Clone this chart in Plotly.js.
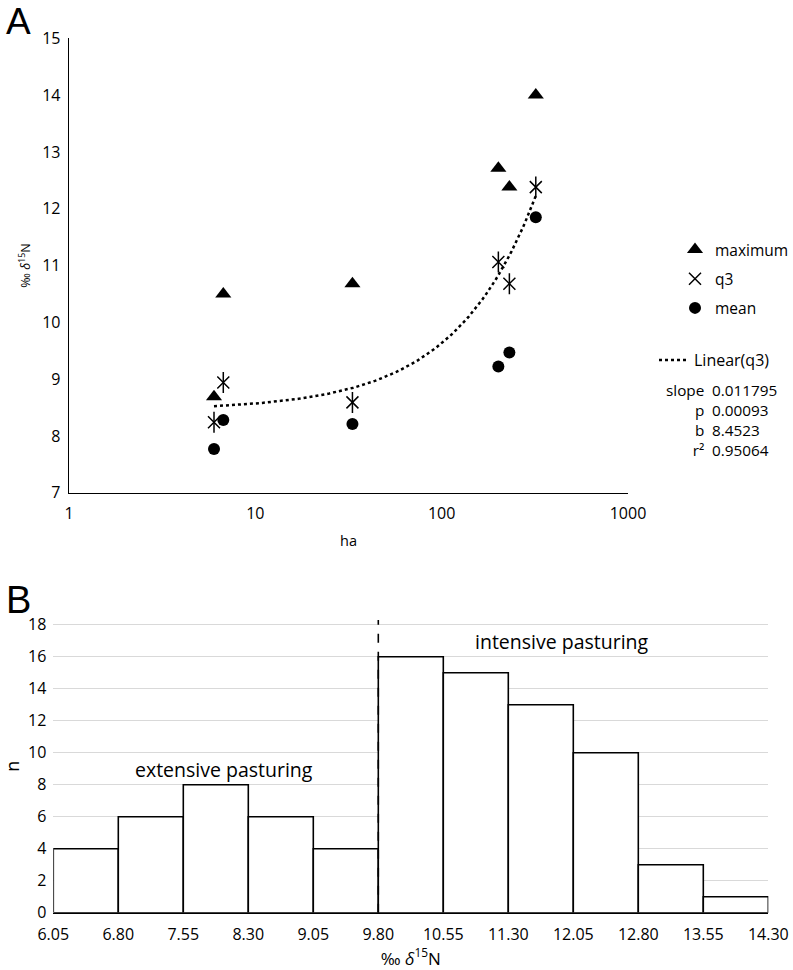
<!DOCTYPE html>
<html>
<head>
<meta charset="utf-8">
<script src="https://cdn.plot.ly/plotly-3.0.1.min.js"></script>
<style>html,body{margin:0;padding:0;background:#fff;}#chart{width:793px;height:970px;}</style>
</head>
<body>
<div id="chart"></div>
<script>
// ---- Panel A data (area in ha vs δ15N) ----
const maxHa   = [6.0, 6.73, 33.2, 201.5, 230.9, 320];
const maxVal  = [8.69, 10.50, 10.68, 12.71, 12.38, 14.0];
const q3Ha    = [6.0, 6.73, 33.2, 201.5, 230.9, 320];
const q3Val   = [8.24, 8.94, 8.59, 11.06, 10.68, 12.38];
const meanHa  = [6.0, 6.73, 33.2, 201.5, 230.9, 320];
const meanVal = [7.77, 8.28, 8.21, 9.22, 9.47, 11.85];
const trendSlope = 0.011795;
const trendB = 8.4523;
const statLabels = ['slope', 'p', 'b', 'r²'];
const statValues = ['0.011795', '0.00093', '8.4523', '0.95064'];
const xTicksA = [1, 10, 100, 1000];

// ---- Panel B data (histogram) ----
const binEdges = [6.05, 6.80, 7.55, 8.30, 9.05, 9.80, 10.55, 11.30, 12.05, 12.80, 13.55, 14.30];
const counts   = [4, 6, 8, 6, 4, 16, 15, 13, 10, 3, 1];
const threshold = 9.80;
const yTicksB = [0, 2, 4, 6, 8, 10, 12, 14, 16, 18];

const FONT = "'Open Sans', Lato, sans-serif";
const BIG = "'Liberation Sans', Arial, sans-serif";

// trend line (linear fit of q3, drawn across q3 range on log axis)
const xmin = Math.min(...q3Ha), xmax = Math.max(...q3Ha);
const trendX = [], trendY = [];
for (let i = 0; i <= 120; i++) {
  const x = Math.pow(10, Math.log10(xmin) + (Math.log10(xmax) - Math.log10(xmin)) * i / 120);
  trendX.push(x); trendY.push(trendB + trendSlope * x);
}

const binCenters = counts.map((_, i) => (binEdges[i] + binEdges[i + 1]) / 2);
const binWidths = counts.map((_, i) => binEdges[i + 1] - binEdges[i]);

const traces = [
  {x: maxHa, y: maxVal, type: 'scatter', mode: 'markers', name: 'maximum', legendgroup: 'a',
   marker: {symbol: 'triangle-up', size: 14, color: 'black'}, xaxis: 'x', yaxis: 'y'},
  {x: q3Ha, y: q3Val, type: 'scatter', mode: 'markers', name: 'q3', legendgroup: 'b',
   marker: {symbol: 'x-thin-open', size: 12, color: 'black', line: {width: 1.5, color: 'black'}}, xaxis: 'x', yaxis: 'y'},
  {x: q3Ha, y: q3Val, type: 'scatter', mode: 'markers', name: 'q3', legendgroup: 'b', showlegend: false,
   marker: {symbol: 'line-ns-open', size: 15, color: 'black', line: {width: 1.5, color: 'black'}}, xaxis: 'x', yaxis: 'y'},
  {x: meanHa, y: meanVal, type: 'scatter', mode: 'markers', name: 'mean', legendgroup: 'c',
   marker: {symbol: 'circle', size: 12, color: 'black'}, xaxis: 'x', yaxis: 'y'},
  {x: trendX, y: trendY, type: 'scatter', mode: 'lines', name: 'Linear(q3)', legend: 'legend2',
   line: {color: 'black', width: 2.5, dash: 'dot'}, xaxis: 'x', yaxis: 'y'},
  {x: binCenters, y: counts, width: binWidths, type: 'bar', showlegend: false,
   marker: {color: 'white', line: {color: 'black', width: 1.6}}, xaxis: 'x2', yaxis: 'y2'}
];

const W = 793, H = 970;
const annotations = [
  {text: 'A', xref: 'paper', yref: 'paper', x: 5 / W, y: 1, xanchor: 'left', yanchor: 'top',
   showarrow: false, borderpad: 0, font: {size: 37, family: BIG}},
  {text: 'B', xref: 'paper', yref: 'paper', x: 5 / W, y: 1 - 600 / H, xanchor: 'left', yanchor: 'middle',
   showarrow: false, borderpad: 0, font: {size: 38, family: BIG}},
  {text: 'extensive pasturing', xref: 'x2', yref: 'y2', x: 8.02, y: 8.92, showarrow: false,
   font: {size: 19.5, family: FONT}},
  {text: 'intensive pasturing', xref: 'x2', yref: 'y2', x: 11.92, y: 16.92, showarrow: false,
   font: {size: 19.5, family: FONT}},
  {text: statLabels.join('<br>'), xref: 'paper', yref: 'paper', x: 705 / W, y: 1 - 379 / H,
   xanchor: 'right', yanchor: 'top', align: 'right', showarrow: false, borderpad: 0,
   font: {size: 15.3, family: FONT}},
  {text: statValues.join('<br>'), xref: 'paper', yref: 'paper', x: 711 / W, y: 1 - 379 / H,
   xanchor: 'left', yanchor: 'top', align: 'left', showarrow: false, borderpad: 0,
   font: {size: 15.3, family: FONT}}
];

const layout = {
  width: W, height: H,
  margin: {l: 0, r: 0, t: 0, b: 0, autoexpand: false},
  paper_bgcolor: 'white', plot_bgcolor: 'rgba(0,0,0,0)',
  font: {family: FONT, size: 16, color: 'black'},
  showlegend: true,
  xaxis: {
    type: 'log', range: [0, 3], domain: [69 / W, 628 / W], anchor: 'y',
    tickvals: xTicksA, ticktext: xTicksA.map(String), ticks: '', ticklabelstandoff: 6,
    showline: true, linecolor: 'black', linewidth: 1.3, showgrid: false, zeroline: false,
    tickfont: {size: 16, family: FONT},
    title: {text: 'ha', font: {size: 14.5, family: FONT}, standoff: 12}
  },
  yaxis: {
    range: [7, 15], dtick: 1, domain: [1 - 492.7 / H, 1 - 38.3 / H], anchor: 'x',
    showline: true, linecolor: 'black', linewidth: 1.3, showgrid: false, zeroline: false,
    ticks: '', ticklabelstandoff: 4, tickfont: {size: 16, family: FONT},
    title: {text: '‰ <i>δ</i><sup>15</sup>N', font: {size: 12.5, family: FONT}, standoff: 8}
  },
  xaxis2: {
    range: [binEdges[0], binEdges[binEdges.length - 1]], domain: [53.3 / W, 768.3 / W], anchor: 'y2',
    tickvals: binEdges, ticktext: binEdges.map(v => v.toFixed(2)), ticks: '', ticklabelstandoff: 6,
    showline: true, linecolor: 'black', linewidth: 1.6, showgrid: false, zeroline: false,
    tickfont: {size: 16, family: FONT},
    title: {text: '‰ <i>δ</i><sup>15</sup>N', font: {size: 17, family: FONT}, standoff: 0}
  },
  yaxis2: {
    range: [0, 18.3], tickvals: yTicksB, domain: [1 - 912.7 / H, 1 - 619.9 / H], anchor: 'x2',
    showline: false, showgrid: true, gridcolor: '#d9d9d9', gridwidth: 1.3, zeroline: false,
    ticks: '', ticklabelstandoff: 6, tickfont: {size: 16, family: FONT},
    title: {text: 'n', font: {size: 18, family: FONT}, standoff: 12}
  },
  legend: {
    x: 675 / W, y: 1 - 233 / H, xanchor: 'left', yanchor: 'top',
    font: {size: 15.5, family: FONT}, tracegroupgap: 6, bgcolor: 'rgba(0,0,0,0)'
  },
  legend2: {
    x: 654 / W, y: 1 - 343 / H, xanchor: 'left', yanchor: 'top',
    font: {size: 16, family: FONT}, bgcolor: 'rgba(0,0,0,0)'
  },
  shapes: [
    {type: 'line', xref: 'x2', yref: 'y2', x0: threshold, x1: threshold, y0: 0, y1: 18.3,
     line: {color: 'black', width: 1.6, dash: 'dash'}}
  ],
  annotations: annotations
};

Plotly.newPlot('chart', traces, layout, {displayModeBar: false, staticPlot: true});
</script>
</body>
</html>
